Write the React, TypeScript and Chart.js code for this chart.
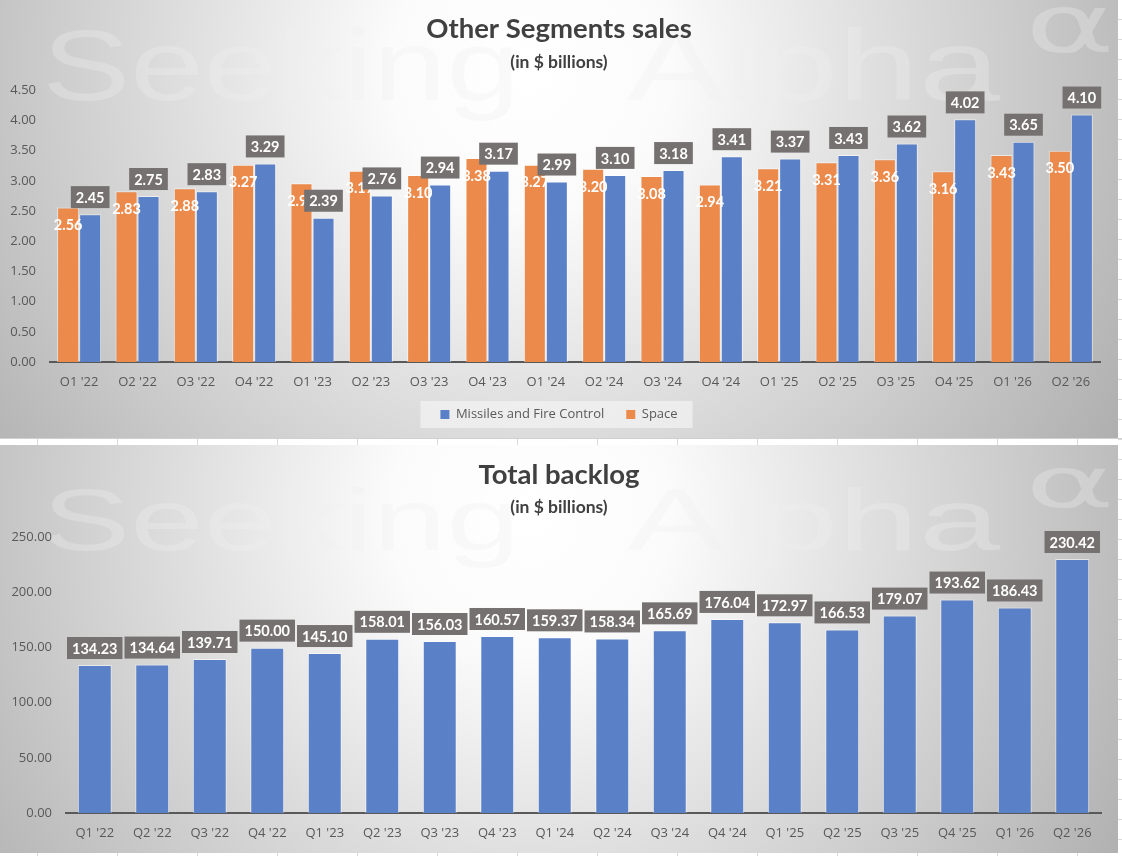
import React, { useEffect, useRef } from 'react';
import { Chart, registerables } from 'chart.js';

Chart.register(...registerables);

const quarters = ["Q1 '22", "Q2 '22", "Q3 '22", "Q4 '22", "Q1 '23", "Q2 '23", "Q3 '23", "Q4 '23", "Q1 '24", "Q2 '24", "Q3 '24", "Q4 '24", "Q1 '25", "Q2 '25", "Q3 '25", "Q4 '25", "Q1 '26", "Q2 '26"];
const spaceSales = [2.56, 2.83, 2.88, 3.27, 2.96, 3.17, 3.10, 3.38, 3.27, 3.20, 3.08, 2.94, 3.21, 3.31, 3.36, 3.16, 3.43, 3.50];
const missilesSales = [2.45, 2.75, 2.83, 3.29, 2.39, 2.76, 2.94, 3.17, 2.99, 3.10, 3.18, 3.41, 3.37, 3.43, 3.62, 4.02, 3.65, 4.10];
const totalBacklog = [134.23, 134.64, 139.71, 150.00, 145.10, 158.01, 156.03, 160.57, 159.37, 158.34, 165.69, 176.04, 172.97, 166.53, 179.07, 193.62, 186.43, 230.42];

const salesAxis = { min: 0, max: 4.5, step: 0.5 };
const backlogAxis = { min: 0, max: 250, step: 50 };

const BLUE = '#5a80c8';
const ORANGE = '#ec8a4b';
const LABEL_BOX = '#767171';
const AXIS_TEXT = '#595959';
const TITLE_TEXT = '#404040';
const FONT = 'Lato';

function drawWatermark(ctx: CanvasRenderingContext2D, baseline: number, size: number, alphaBase: number) {
  ctx.save();
  ctx.fillStyle = 'rgba(238,238,238,0.32)';
  ctx.textBaseline = 'alphabetic';
  ctx.font = `${size}px "Liberation Sans"`;
  const parts: [string, number, number][] = [['Seeking', 42, 520], ['Alpha', 627, 1000]];
  for (const [t, x0, x1] of parts) {
    const w = ctx.measureText(t).width;
    ctx.save();
    ctx.translate(x0, baseline);
    ctx.scale((x1 - x0) / w, 1);
    ctx.fillText(t, 0, 0);
    ctx.restore();
  }
  ctx.font = `${Math.round(size * 0.8)}px "DejaVu Sans"`;
  const aw = ctx.measureText('α').width;
  ctx.save();
  ctx.translate(1025, alphaBase);
  ctx.scale(90 / aw, 1);
  ctx.fillText('α', 0, 0);
  ctx.restore();
  ctx.restore();
}

function makeBackground(wmBaseline: number, wmSize: number, alphaBase: number) {
  return {
    id: 'panelBackground',
    beforeDraw(chart: any) {
      const { ctx, width, height } = chart;
      ctx.save();
      const g = ctx.createRadialGradient(530, 70, 0, 530, 70, 700);
      g.addColorStop(0, '#ffffff');
      g.addColorStop(0.2, '#fbfbfb');
      g.addColorStop(1, '#aeaeae');
      ctx.fillStyle = g;
      ctx.fillRect(0, 0, width, height);
      ctx.restore();
      drawWatermark(ctx, wmBaseline, wmSize, alphaBase);
      const lg = chart.legend;
      if (lg && lg.options.display && lg.legendHitBoxes && lg.legendHitBoxes.length) {
        const hb = lg.legendHitBoxes;
        const l = Math.min(...hb.map((h: any) => h.left)) - 20;
        const r = Math.max(...hb.map((h: any) => h.left + h.width)) + 15;
        const t = hb[0].top - 7;
        const b = hb[0].top + hb[0].height + 7;
        ctx.save();
        ctx.fillStyle = 'rgba(244,244,244,0.7)';
        ctx.fillRect(l, t, r - l, b - t);
        ctx.restore();
      }
    },
  };
}

const valueLabels = {
  id: 'valueLabels',
  afterDatasetsDraw(chart: any) {
    const { ctx } = chart;
    chart.data.datasets.forEach((ds: any, i: number) => {
      const meta = chart.getDatasetMeta(i);
      meta.data.forEach((bar: any, j: number) => {
        const text = Number(ds.data[j]).toFixed(2);
        ctx.save();
        ctx.font = `bold 14.5px ${FONT}`;
        ctx.textAlign = 'center';
        ctx.textBaseline = 'middle';
        if (ds.labelMode === 'box') {
          const w = ctx.measureText(text).width + 10;
          const h = 22;
          const bottom = bar.y - 6;
          ctx.fillStyle = LABEL_BOX;
          ctx.fillRect(bar.x - w / 2, bottom - h, w, h);
          ctx.fillStyle = '#ffffff';
          ctx.fillText(text, bar.x, bottom - h / 2 + 1);
        } else {
          ctx.fillStyle = '#ffffff';
          ctx.fillText(text, bar.x, bar.y + 18);
        }
        ctx.restore();
      });
    });
  },
};

function noBorderLabels(chart: any) {
  return Chart.defaults.plugins.legend.labels.generateLabels(chart).map((l: any) => ({ ...l, lineWidth: 0, strokeStyle: 'rgba(0,0,0,0)' }));
}

function baseScales(axis: { min: number; max: number; step: number }, leftWidth: number, rightWidth: number, xHeight: number) {
  return {
    x: {
      grid: { display: false, drawTicks: false },
      border: { display: true, color: '#595959', width: 2 },
      ticks: { color: AXIS_TEXT, padding: 12, font: { family: 'Open Sans', size: 13 }, maxRotation: 0, autoSkip: false },
      afterFit: (s: any) => { s.height = xHeight; },
    },
    y: {
      min: axis.min,
      max: axis.max,
      grid: { display: false, drawTicks: false },
      border: { display: false },
      ticks: { stepSize: axis.step, color: AXIS_TEXT, padding: 14, font: { family: 'Open Sans', size: 13 }, callback: (v: any) => Number(v).toFixed(2) },
      afterFit: (s: any) => { s.width = leftWidth; },
    },
    yRight: {
      position: 'right',
      display: true,
      grid: { display: false, drawTicks: false },
      border: { display: false },
      ticks: { display: false },
      afterFit: (s: any) => { s.width = rightWidth; },
    },
  };
}

export default function App() {
  const topRef = useRef<HTMLCanvasElement>(null);
  const bottomRef = useRef<HTMLCanvasElement>(null);

  useEffect(() => {
    const top = new Chart(topRef.current as HTMLCanvasElement, {
      type: 'bar',
      data: {
        labels: quarters,
        datasets: [
          { label: 'Space', data: spaceSales, backgroundColor: ORANGE, borderColor: 'rgba(255,255,255,0.55)', borderWidth: 1, labelMode: 'inside' } as any,
          { label: 'Missiles and Fire Control', data: missilesSales, backgroundColor: BLUE, borderColor: 'rgba(255,255,255,0.55)', borderWidth: 1, labelMode: 'box' } as any,
        ],
      },
      options: {
        responsive: false,
        animation: false,
        devicePixelRatio: 1,
        datasets: { bar: { categoryPercentage: 0.755, barPercentage: 1.0 } },
        layout: { padding: { top: 0, left: 0, right: 0, bottom: 7 } },
        scales: baseScales(salesAxis, 50, 18, 24) as any,
        plugins: {
          title: { display: true, text: 'Other Segments sales', color: TITLE_TEXT, font: { family: FONT, size: 27.5, weight: 'bold' }, padding: { top: 13, bottom: 0 } },
          subtitle: { display: true, text: '(in $ billions)', color: TITLE_TEXT, font: { family: FONT, size: 17.5, weight: 'bold' }, padding: { top: 6, bottom: 17.4 } },
          legend: {
            display: true,
            position: 'bottom',
            reverse: true,
            labels: { boxWidth: 9, boxHeight: 9, padding: 22, color: AXIS_TEXT, font: { family: 'Open Sans', size: 13 }, generateLabels: noBorderLabels },
          },
          tooltip: { enabled: false },
        },
      },
      plugins: [makeBackground(100, 100, 52), valueLabels],
    });

    const bottom = new Chart(bottomRef.current as HTMLCanvasElement, {
      type: 'bar',
      data: {
        labels: quarters,
        datasets: [
          { label: 'Total backlog', data: totalBacklog, backgroundColor: BLUE, borderColor: 'rgba(255,255,255,0.55)', borderWidth: 1, labelMode: 'box' } as any,
        ],
      },
      options: {
        responsive: false,
        animation: false,
        devicePixelRatio: 1,
        datasets: { bar: { categoryPercentage: 1.0, barPercentage: 0.59 } },
        layout: { padding: { top: 0, left: 0, right: 0, bottom: 10 } },
        scales: baseScales(backlogAxis, 66, 17, 30) as any,
        plugins: {
          title: { display: true, text: 'Total backlog', color: TITLE_TEXT, font: { family: FONT, size: 27.5, weight: 'bold' }, padding: { top: 14, bottom: 0 } },
          subtitle: { display: true, text: '(in $ billions)', color: TITLE_TEXT, font: { family: FONT, size: 17.5, weight: 'bold' }, padding: { top: 5, bottom: 19.4 } },
          legend: { display: false },
          tooltip: { enabled: false },
        },
      },
      plugins: [makeBackground(105, 88, 62), valueLabels],
    });

    return () => {
      top.destroy();
      bottom.destroy();
    };
  }, []);

  return (
    <div
      style={{
        position: 'absolute',
        left: 0,
        top: 0,
        width: 1122,
        height: 856,
        overflow: 'hidden',
        backgroundColor: '#ffffff',
        backgroundImage: 'repeating-linear-gradient(90deg, rgba(0,0,0,0) 0px, rgba(0,0,0,0) 37px, #dadada 37px, #dadada 38px, rgba(0,0,0,0) 38px, rgba(0,0,0,0) 80px)',
      }}
    >
      <div
        style={{
          position: 'absolute',
          left: 1118,
          top: 0,
          width: 4,
          height: 856,
          background: 'repeating-linear-gradient(180deg, #ffffff 0px, #ffffff 19px, #dadada 19px, #dadada 20px)',
        }}
      />
      <div style={{ position: 'absolute', left: 0, top: 438, width: 1122, height: 1, background: '#d0d0d0' }} />
      <canvas ref={topRef} width={1118} height={438} style={{ position: 'absolute', left: 0, top: 0, display: 'block' }} />
      <canvas ref={bottomRef} width={1118} height={408} style={{ position: 'absolute', left: 0, top: 445, display: 'block' }} />
    </div>
  );
}
